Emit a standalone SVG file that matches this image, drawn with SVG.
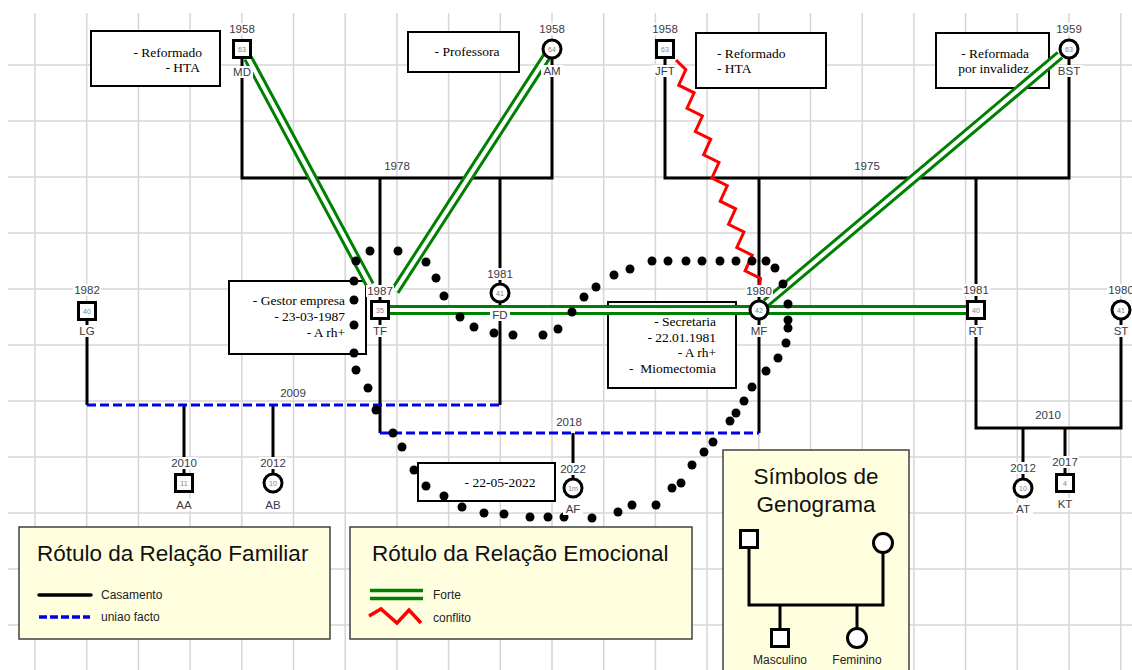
<svg xmlns="http://www.w3.org/2000/svg" width="1132" height="670" viewBox="0 0 1132 670">
<style>
.grid{stroke:#d6d6d6;stroke-width:1.5;fill:none}
.note{fill:#fff;stroke:#000;stroke-width:2}
.nt{font-family:"Liberation Serif","Times New Roman",serif;font-size:13.5px;fill:#000}
.blk{stroke:#000;stroke-width:3;fill:none}
.blue{stroke:#0000ee;stroke-width:3;fill:none;stroke-dasharray:9 4}
.gO{stroke:#008000;stroke-width:10;fill:none}
.gI{stroke:#fff;stroke-width:4;fill:none}
.red{stroke:#ff0000;stroke-width:3;fill:none;stroke-linejoin:miter}
.dot{fill:#000}
.sq{fill:#fff;stroke:#000;stroke-width:3}
.ci{fill:#fff;stroke:#000;stroke-width:3}
.lbg{fill:#fff}
.yr{font-family:"Liberation Sans",Arial,sans-serif;font-size:11.5px;fill:#3a3a46;text-anchor:middle}
.nm{font-family:"Liberation Sans",Arial,sans-serif;font-size:11.5px;fill:#3a3a46;text-anchor:middle}
.num{font-family:"Liberation Sans",Arial,sans-serif;font-size:7px;fill:#808090;text-anchor:middle}
.my{font-family:"Liberation Sans",Arial,sans-serif;font-size:11.5px;fill:#3a3a46;text-anchor:middle}
.leg{fill:#ffffe0;stroke:#404040;stroke-width:1.5}
.lt{font-family:"Liberation Sans",Arial,sans-serif;font-size:22.5px;fill:#111}
.ls{font-family:"Liberation Sans",Arial,sans-serif;font-size:12px;fill:#222}
</style>
<rect x="0" y="0" width="1132" height="670" fill="#fff"/>
<g id="grid" class="grid">
<path d="M35,13V670M86.7,13V670M138.4,13V670M190.1,13V670M241.8,13V670M293.5,13V670M345.2,13V670M396.9,13V670M448.6,13V670M500.3,13V670M552,13V670M603.7,13V670M655.4,13V670M707.1,13V670M758.8,13V670M810.5,13V670M862.2,13V670M913.9,13V670M965.6,13V670M1017.3,13V670M1069,13V670M1120.7,13V670"/>
<path d="M8,65H1132M8,121H1132M8,177H1132M8,233H1132M8,289H1132M8,345H1132M8,401H1132M8,457H1132M8,513H1132M8,569H1132M8,625H1132"/>
</g>
<g id="notes">
<g id="note-MD"><rect class="note" x="91" y="31" width="129" height="55"/><text class="nt" x="202" y="56.5" text-anchor="end">- Reformado</text><text class="nt" x="200" y="71.5" text-anchor="end">- HTA</text></g>
<g id="note-AM"><rect class="note" x="408" y="32" width="111" height="40"/><text class="nt" x="467" y="55.5" text-anchor="middle">- Professora</text></g>
<g id="note-JFT"><rect class="note" x="696" y="33" width="130" height="55"/><text class="nt" x="717" y="57.5">- Reformado</text><text class="nt" x="717" y="72.5">- HTA</text></g>
<g id="note-BST"><rect class="note" x="936" y="33" width="113" height="55"/><text class="nt" x="1029" y="57.5" text-anchor="end">- Reformada</text><text class="nt" x="1029" y="72.5" text-anchor="end">por invalidez</text></g>
<g id="note-TF"><rect class="note" x="229" y="281" width="137" height="73"/><text class="nt" x="345" y="304.5" text-anchor="end">- Gestor empresa</text><text class="nt" x="345" y="320.5" text-anchor="end">- 23-03-1987</text><text class="nt" x="345" y="336.5" text-anchor="end">- A rh+</text></g>
<g id="note-MF"><rect class="note" x="608" y="302" width="128" height="86"/><text class="nt" x="716" y="325.5" text-anchor="end">- Secretaria</text><text class="nt" x="716" y="341.5" text-anchor="end">- 22.01.1981</text><text class="nt" x="716" y="356.5" text-anchor="end">- A rh+</text><text class="nt" x="716" y="372.5" text-anchor="end" xml:space="preserve">-  Miomectomia</text></g>
<g id="note-AF"><rect class="note" x="418" y="463" width="137" height="38"/><text class="nt" x="500" y="487" text-anchor="middle">- 22-05-2022</text></g>
</g>
<g id="connectors">
<path class="blk" d="M242,49V178H552V49M380,178V310M500,178V293"/>
<path class="blk" d="M665,49V178H1069V49M759,178V310M976,178V310"/>
<path class="blk" d="M976,310V428H1121V310M1023,428V488M1065,428V483"/>
<path class="blk" d="M87,311V405M500,293V405M184,405V483M273,405V483"/>
<path class="blk" d="M380,310V433M759,310V433M573,433V488"/>
<path class="blue" d="M87,405H500"/>
<path class="blue" d="M380,433H759"/>
<g id="strong">
<path class="gO" d="M248,58L370,285M547,56L395,291M1060,55L766,303M388,310H968"/>
<path class="gI" d="M248,58L370,285M547,56L395,291M1060,55L766,303M388,310H968"/>
</g>
<polyline class="red" points="676,60 685.8,69.6 678.7,85.2 694.1,92.8 687,108.4 702.4,116 695.3,131.6 710.7,139.2 703.6,154.8 719,162.4 711.9,178 727.3,185.6 720.2,201.2 735.6,208.8 728.5,224.4 743.9,232 736.8,247.6 752.2,255.2 745.1,270.8 760.5,278.4 759,292"/>
<text class="my" x="397" y="170">1978</text>
<text class="my" x="867" y="170">1975</text>
<text class="my" x="293" y="397">2009</text>
<text class="my" x="569" y="426">2018</text>
<text class="my" x="1048" y="419">2010</text>
</g>
<g id="dotted" class="dot">
<circle cx="370" cy="251" r="4.5"/><circle cx="398" cy="251" r="4.5"/><circle cx="426" cy="262" r="4.5"/><circle cx="436" cy="278" r="4.5"/><circle cx="444" cy="296" r="4.5"/><circle cx="460" cy="317" r="4.5"/><circle cx="474" cy="327" r="4.5"/><circle cx="494" cy="333" r="4.5"/><circle cx="513" cy="335" r="4.5"/><circle cx="543" cy="335" r="4.5"/><circle cx="558" cy="329" r="4.5"/><circle cx="572" cy="312" r="4.5"/><circle cx="584" cy="297" r="4.5"/><circle cx="596" cy="287" r="4.5"/><circle cx="614" cy="275" r="4.5"/><circle cx="630" cy="269" r="4.5"/><circle cx="652" cy="261" r="4.5"/><circle cx="668" cy="261" r="4.5"/><circle cx="686" cy="261" r="4.5"/><circle cx="702" cy="261" r="4.5"/><circle cx="720" cy="261" r="4.5"/><circle cx="736" cy="261" r="4.5"/><circle cx="752" cy="261" r="4.5"/><circle cx="766" cy="261" r="4.5"/><circle cx="775" cy="268" r="4.5"/><circle cx="783" cy="284" r="4.5"/><circle cx="788" cy="304" r="4.5"/><circle cx="788" cy="320" r="4.5"/><circle cx="788" cy="328" r="4.5"/><circle cx="786" cy="343" r="4.5"/><circle cx="778" cy="358" r="4.5"/><circle cx="766" cy="371" r="4.5"/><circle cx="752" cy="387" r="4.5"/><circle cx="744" cy="401" r="4.5"/><circle cx="736" cy="413" r="4.5"/><circle cx="730" cy="421" r="4.5"/><circle cx="713" cy="442" r="4.5"/><circle cx="704" cy="452" r="4.5"/><circle cx="692" cy="465" r="4.5"/><circle cx="681" cy="483" r="4.5"/><circle cx="672" cy="488" r="4.5"/><circle cx="656" cy="505" r="4.5"/><circle cx="632" cy="505" r="4.5"/><circle cx="618" cy="512" r="4.5"/><circle cx="592" cy="518" r="4.5"/><circle cx="564" cy="517" r="4.5"/><circle cx="548" cy="517" r="4.5"/><circle cx="530" cy="517" r="4.5"/><circle cx="504" cy="514" r="4.5"/><circle cx="484" cy="513" r="4.5"/><circle cx="462" cy="507" r="4.5"/><circle cx="444" cy="496" r="4.5"/><circle cx="426" cy="486" r="4.5"/><circle cx="414" cy="470" r="4.5"/><circle cx="402" cy="447" r="4.5"/><circle cx="393" cy="433" r="4.5"/><circle cx="376" cy="410" r="4.5"/><circle cx="368" cy="388" r="4.5"/><circle cx="356" cy="370" r="4.5"/><circle cx="354" cy="353" r="4.5"/><circle cx="354" cy="325" r="4.5"/><circle cx="354" cy="300" r="4.5"/><circle cx="354" cy="281" r="4.5"/><circle cx="356" cy="261" r="4.5"/>
</g>
<g id="node-MD"><rect class="lbg" x="228" y="23" width="28" height="12"/><text class="yr" x="242" y="33">1958</text><rect class="sq" x="233.5" y="40.5" width="17" height="17"/><text class="num" x="242" y="51.5">63</text><rect class="lbg" x="231" y="66" width="22" height="12"/><text class="nm" x="242" y="76">MD</text></g>
<g id="node-AM"><rect class="lbg" x="538" y="23" width="28" height="12"/><text class="yr" x="552" y="33">1958</text><circle class="ci" cx="552" cy="49" r="9"/><text class="num" x="552" y="51.5">64</text><rect class="lbg" x="541" y="65" width="22" height="12"/><text class="nm" x="552" y="75">AM</text></g>
<g id="node-JFT"><rect class="lbg" x="651" y="23" width="28" height="12"/><text class="yr" x="665" y="33">1958</text><rect class="sq" x="656.5" y="40.5" width="17" height="17"/><text class="num" x="665" y="51.5">63</text><rect class="lbg" x="652" y="65" width="26" height="12"/><text class="nm" x="665" y="75">JFT</text></g>
<g id="node-BST"><rect class="lbg" x="1055" y="23" width="28" height="12"/><text class="yr" x="1069" y="33">1959</text><circle class="ci" cx="1069" cy="49" r="9"/><text class="num" x="1069" y="51.5">63</text><rect class="lbg" x="1055" y="65" width="28" height="12"/><text class="nm" x="1069" y="75">BST</text></g>
<g id="node-LG"><rect class="lbg" x="73" y="284" width="28" height="12"/><text class="yr" x="87" y="294">1982</text><rect class="sq" x="78.5" y="302.5" width="17" height="17"/><text class="num" x="87" y="313.5">40</text><rect class="lbg" x="77" y="325" width="20" height="12"/><text class="nm" x="87" y="335">LG</text></g>
<g id="node-TF"><rect class="lbg" x="366" y="285" width="28" height="12"/><text class="yr" x="380" y="295">1987</text><rect class="sq" x="371.5" y="301.5" width="17" height="17"/><text class="num" x="380" y="312.5">35</text><rect class="lbg" x="371" y="325" width="18" height="12"/><text class="nm" x="380" y="335">TF</text></g>
<g id="node-FD"><rect class="lbg" x="486" y="268" width="28" height="12"/><text class="yr" x="500" y="278">1981</text><circle class="ci" cx="500" cy="293" r="9"/><text class="num" x="500" y="295.5">41</text><rect class="lbg" x="490" y="309" width="20" height="12"/><text class="nm" x="500" y="319">FD</text></g>
<g id="node-MF"><rect class="lbg" x="745" y="285" width="28" height="12"/><text class="yr" x="759" y="295">1980</text><circle class="ci" cx="759" cy="310" r="9"/><text class="num" x="759" y="312.5">42</text><rect class="lbg" x="748" y="325" width="22" height="12"/><text class="nm" x="759" y="335">MF</text></g>
<g id="node-RT"><rect class="lbg" x="962" y="284" width="28" height="12"/><text class="yr" x="976" y="294">1981</text><rect class="sq" x="967.5" y="301.5" width="17" height="17"/><text class="num" x="976" y="312.5">40</text><rect class="lbg" x="966" y="325" width="20" height="12"/><text class="nm" x="976" y="335">RT</text></g>
<g id="node-ST"><rect class="lbg" x="1107" y="284" width="28" height="12"/><text class="yr" x="1121" y="294">1980</text><circle class="ci" cx="1121" cy="310" r="9"/><text class="num" x="1121" y="312.5">41</text><rect class="lbg" x="1111" y="325" width="20" height="12"/><text class="nm" x="1121" y="335">ST</text></g>
<g id="node-AA"><rect class="lbg" x="170" y="457" width="28" height="12"/><text class="yr" x="184" y="467">2010</text><rect class="sq" x="175.5" y="474.5" width="17" height="17"/><text class="num" x="184" y="485.5">11</text><rect class="lbg" x="174" y="499" width="20" height="12"/><text class="nm" x="184" y="509">AA</text></g>
<g id="node-AB"><rect class="lbg" x="259" y="457" width="28" height="12"/><text class="yr" x="273" y="467">2012</text><circle class="ci" cx="273" cy="483" r="9"/><text class="num" x="273" y="485.5">10</text><rect class="lbg" x="263" y="499" width="20" height="12"/><text class="nm" x="273" y="509">AB</text></g>
<g id="node-AF"><rect class="lbg" x="559" y="463" width="28" height="12"/><text class="yr" x="573" y="473">2022</text><circle class="ci" cx="573" cy="488" r="9"/><text class="num" x="573" y="490.5">1m</text><rect class="lbg" x="563" y="503" width="20" height="12"/><text class="nm" x="573" y="513">AF</text></g>
<g id="node-AT"><rect class="lbg" x="1009" y="462" width="28" height="12"/><text class="yr" x="1023" y="472">2012</text><circle class="ci" cx="1023" cy="488" r="9"/><text class="num" x="1023" y="490.5">10</text><rect class="lbg" x="1013" y="503" width="20" height="12"/><text class="nm" x="1023" y="513">AT</text></g>
<g id="node-KT"><rect class="lbg" x="1051" y="456" width="28" height="12"/><text class="yr" x="1065" y="466">2017</text><rect class="sq" x="1056.5" y="474.5" width="17" height="17"/><text class="num" x="1065" y="485.5">4</text><rect class="lbg" x="1055" y="498" width="20" height="12"/><text class="nm" x="1065" y="508">KT</text></g>
<g id="legend-familiar">
<rect class="leg" x="19" y="527" width="311" height="112"/>
<text class="lt" x="37" y="561">Rótulo da Relação Familiar</text>
<line x1="39" y1="595" x2="91" y2="595" stroke="#000" stroke-width="3.5" stroke-linecap="round"/>
<text class="ls" x="101" y="599">Casamento</text>
<line x1="39" y1="617" x2="90" y2="617" stroke="#0000ee" stroke-width="3.5" stroke-dasharray="8 3"/>
<text class="ls" x="101" y="621">uniao facto</text>
</g>
<g id="legend-emocional">
<rect class="leg" x="350" y="527" width="342" height="112"/>
<text class="lt" x="372" y="561">Rótulo da Relação Emocional</text>
<path d="M370,590.5H423M370,598.5H423" stroke="#008000" stroke-width="3.5" fill="none"/>
<text class="ls" x="433" y="599">Forte</text>
<polyline points="369,616 381,609 397,623 409,610 421,623" stroke="#ff0000" stroke-width="3.5" fill="none"/>
<text class="ls" x="433" y="622">conflito</text>
</g>
<g id="legend-simbolos">
<rect class="leg" x="723" y="450" width="186" height="230"/>
<text class="lt" x="816" y="484" text-anchor="middle">Símbolos de</text>
<text class="lt" x="816" y="512" text-anchor="middle">Genograma</text>
<path class="blk" d="M749,539V605H883V543M780,605V638M857,605V638"/>
<rect class="sq" x="740.5" y="530.5" width="17" height="17"/>
<circle class="ci" cx="883" cy="543" r="9.5"/>
<rect class="sq" x="771.5" y="629.5" width="17" height="17"/>
<circle class="ci" cx="857" cy="638" r="9.5"/>
<text class="ls" x="780" y="664" text-anchor="middle">Masculino</text>
<text class="ls" x="857" y="664" text-anchor="middle">Feminino</text>
</g>
</svg>
